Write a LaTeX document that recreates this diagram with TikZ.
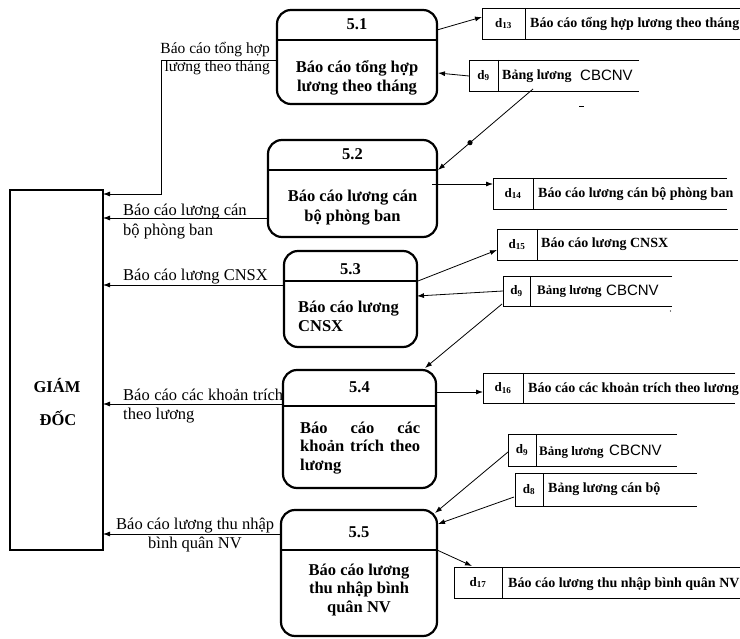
\documentclass[tikz,border=0pt]{standalone}
\usepackage{fontspec}
\setmainfont{Liberation Serif}
\newfontfamily\arialf{Liberation Sans}
\usetikzlibrary{arrows.meta,calc}
\begin{document}
\begin{tikzpicture}[x=1pt,y=-1pt,
  proc/.style={draw,line width=2.2pt,rounded corners=14pt,inner sep=0pt,outer sep=0pt},
  ent/.style={draw,line width=2.2pt,inner sep=0pt,outer sep=0pt},
  ptxt/.style={font=\fontsize{16.5}{19}\selectfont\bfseries,inner sep=0pt,anchor=base},
  lbl/.style={font=\fontsize{16.5}{19}\selectfont,inner sep=0pt},
  stxt/.style={font=\fontsize{14}{16}\selectfont\bfseries,inner sep=0pt,anchor=base west},
  stxs/.style={font=\fontsize{13}{16}\selectfont\bfseries,inner sep=0pt,anchor=base west},
  idcell/.style={font=\fontsize{13}{16}\selectfont\bfseries,inner sep=0pt,outer sep=0pt,anchor=north west},
  sansw/.style={font=\fontsize{15}{16}\selectfont\arialf,inner sep=0pt,anchor=base west},
  flow/.style={-{Latex[length=7pt,width=5pt]},line width=0.8pt},
  sline/.style={line width=0.8pt},
  divl/.style={line width=2.2pt},
]
\useasboundingbox (0,0) rectangle (740,639);

% ---------- GIAM DOC ----------
\node[ent,minimum width=93pt,minimum height=360pt] (gd) at (56.5,370) {};
\node[ptxt] (gd1) at (57,392) {GIÁM};
\node[ptxt] (gd2) at (58,425) {ĐỐC};

% ---------- Processes ----------
\node[proc,minimum width=160pt,minimum height=94pt] (p1) at (357,57) {};
\draw[divl] ([yshift=-30pt]p1.north west) -- ([yshift=-30pt]p1.north east);
\node[ptxt] (p1n) at (357,30) {5.1};
\node[ptxt] (p1a) at (357,73) {Báo cáo tổng hợp};
\node[ptxt] (p1b) at (357,92) {lương theo tháng};

\node[proc,minimum width=169pt,minimum height=97pt] (p2) at (352.5,188.5) {};
\draw[divl] ([yshift=-30pt]p2.north west) -- ([yshift=-30pt]p2.north east);
\node[ptxt] (p2n) at (352.5,160) {5.2};
\node[ptxt] (p2a) at (352.5,202) {Báo cáo lương cán};
\node[ptxt] (p2b) at (352.5,222) {bộ phòng ban};

\node[proc,minimum width=133pt,minimum height=96pt] (p3) at (350.5,299) {};
\draw[divl] ([yshift=-30pt]p3.north west) -- ([yshift=-30pt]p3.north east);
\node[ptxt] (p3n) at (350.5,275) {5.3};
\node[ptxt,anchor=base west] (p3a) at (298,313) {Báo cáo lương};
\node[ptxt,anchor=base west] (p3b) at (298,332) {CNSX};

\node[proc,minimum width=153pt,minimum height=118pt] (p4) at (359.5,429) {};
\draw[divl] ([yshift=-36pt]p4.north west) -- ([yshift=-36pt]p4.north east);
\node[ptxt] (p4n) at (359.5,393) {5.4};
\node[ptxt,anchor=base west] (p4a) at (300,434) {\makebox[120pt][s]{Báo cáo các}};
\node[ptxt,anchor=base west] (p4b) at (300,452) {\makebox[120pt][s]{khoản trích theo}};
\node[ptxt,anchor=base west] (p4c) at (300,471) {lương};

\node[proc,minimum width=156pt,minimum height=126pt] (p5) at (359,573) {};
\draw[divl] ([yshift=-40pt]p5.north west) -- ([yshift=-40pt]p5.north east);
\node[ptxt] (p5n) at (359,537) {5.5};
\node[ptxt] (p5a) at (359,575) {Báo cáo lương};
\node[ptxt] (p5b) at (359,593) {thu nhập bình};
\node[ptxt] (p5c) at (359,612) {quân NV};

% ---------- Data stores ----------
% d13
\node[idcell,minimum width=43pt,minimum height=31pt] (s13) at (482,8) {d\textsubscript{13}};
\draw[sline] (740,8) -- (s13.north west) -- (s13.south west) -- (740,39);
\draw[sline] (s13.north east) -- (s13.south east);
\node[stxt] (t13) at (530,28) {Báo cáo tổng hợp lương theo tháng};

% d9 (a)
\node[idcell,minimum width=29pt,minimum height=31pt] (s9a) at (469,60) {d\textsubscript{9}};
\draw[sline] (639,60) -- (s9a.north west) -- (s9a.south west) -- (639,91);
\draw[sline] (s9a.north east) -- (s9a.south east);
\node[stxt] (t9a) at (502,80) {Bảng lương};
\node[sansw] (u9a) at (580,81) {CBCNV};
\draw[sline] (579,106) -- (584,106);

% d14
\node[idcell,minimum width=40pt,minimum height=31pt] (s14) at (493,178) {d\textsubscript{14}};
\draw[sline] (727,178) -- (s14.north west) -- (s14.south west) -- (727,209);
\draw[sline] (s14.north east) -- (s14.south east);
\node[stxt] (t14) at (538,198) {Báo cáo lương cán bộ phòng ban};

% d15
\node[idcell,minimum width=40pt,minimum height=31pt] (s15) at (497,229) {d\textsubscript{15}};
\draw[sline] (738,229) -- (s15.north west) -- (s15.south west) -- (738,260);
\draw[sline] (s15.north east) -- (s15.south east);
\node[stxt] (t15) at (541,248) {Báo cáo lương CNSX};

% d9 (b)
\node[idcell,minimum width=27pt,minimum height=30pt] (s9b) at (503,276) {d\textsubscript{9}};
\draw[sline] (672,276) -- (s9b.north west) -- (s9b.south west) -- (672,306);
\draw[sline] (s9b.north east) -- (s9b.south east);
\node[stxs] (t9b) at (537,295) {Bảng lương};
\node[sansw] (u9b) at (606,296) {CBCNV};
\fill (670.5,311) circle (0.6pt);

% d16
\node[idcell,minimum width=40pt,minimum height=30pt] (s16) at (483,373) {d\textsubscript{16}};
\draw[sline] (735,373) -- (s16.north west) -- (s16.south west) -- (735,403);
\draw[sline] (s16.north east) -- (s16.south east);
\node[stxt] (t16) at (528,393) {Báo cáo các khoản trích theo lương};

% d9 (c)
\node[idcell,minimum width=28pt,minimum height=32pt] (s9c) at (508,434) {d\textsubscript{9}};
\draw[sline] (677,434) -- (s9c.north west) -- (s9c.south west) -- (677,466);
\draw[sline] (s9c.north east) -- (s9c.south east);
\node[stxs] (t9c) at (539,455) {Bảng lương};
\node[sansw] (u9c) at (609,456) {CBCNV};

% d8
\node[idcell,minimum width=28pt,minimum height=33pt] (s8) at (515,473) {d\textsubscript{8}};
\draw[sline] (697,473) -- (s8.north west) -- (s8.south west) -- (697,506);
\draw[sline] (s8.north east) -- (s8.south east);
\node[stxt] (t8) at (548,492) {Bảng lương cán bộ};

% d17
\node[idcell,minimum width=48pt,minimum height=31pt] (s17) at (454,567) {d\textsubscript{17}};
\draw[sline] (740,567) -- (s17.north west) -- (s17.south west) -- (740,598);
\draw[sline] (s17.north east) -- (s17.south east);
\node[stxt] (t17) at (508,587) {Báo cáo lương thu nhập bình quân NV};

% ---------- Flows between processes and stores ----------
\draw[flow] ($(p1.north east)+(0,20)$) -- ($(s13.north west)+(0,9)$);
\draw[flow] ($(s9a.north west)+(0,16)$) -- ($(p1.north east)+(1,63)$);
\coordinate (a3s) at ($(s9a.south west)+(64,-2)$);
\coordinate (a3e) at ($(p2.north east)+(1,30)$);
\draw[flow] (a3s) -- (a3e);
\fill ($(a3s)!0.663!(a3e)$) circle (2.6pt);
\draw[flow] ($(p2.north east)+(-5,44)$) -- ($(s14.north west)+(0,6)$);
\draw[flow] ($(p3.north east)+(1,30)$) -- ($(s15.north west)+(0,21)$);
\draw[flow] ($(s9b.north west)+(0,15)$) -- ($(p3.north east)+(0,45)$);
\draw[flow] ($(s9b.south west)+(-1,-2)$) -- ($(p4.north east)+(-11,-2)$);
\draw[flow] ($(p4.north east)+(1,22)$) -- ($(s16.north west)+(0,19)$);
\draw[flow] ($(s9c.north west)+(0,18)$) -- ($(p5.north east)+(-2,3)$);
\draw[flow] ($(s8.north west)+(-1,24)$) -- ($(p5.north east)+(1,14)$);
\draw[flow] ($(p5.north east)+(0,40)$) -- ($(s17.north west)+(18,-1)$);

% ---------- Flows to GIAM DOC ----------
\draw[flow] ($(p1.north west)+(0,50)$) -| ($(gd.north east)+(58,4)$) -- ($(gd.north east)+(0,4)$);
\draw[flow] ($(p2.north west)+(0,78)$) -- ($(gd.north east)+(0,28)$);
\draw[flow] ($(p3.north west)+(0,34)$) -- ($(gd.north east)+(0,95)$);
\draw[flow] ($(p4.north west)+(0,34)$) -- ($(gd.north east)+(0,214)$);
\draw[flow] ($(p5.north west)+(0,24)$) -- ($(gd.north east)+(0,344)$);

% ---------- Flow labels ----------
\node[lbl,font=\fontsize{15.5}{18}\selectfont,anchor=base east] (l1a) at (270,54) {Báo cáo tổng hợp};
\node[lbl,font=\fontsize{15.5}{18}\selectfont,anchor=base east] (l1b) at (270,72) {lương theo tháng};
\node[lbl,anchor=base west] (l2a) at (123,216) {Báo cáo lương cán};
\node[lbl,anchor=base west] (l2b) at (123,236) {bộ phòng ban};
\node[lbl,anchor=base west] (l3a) at (123,281) {Báo cáo lương CNSX};
\node[lbl,anchor=base west] (l4a) at (123,401) {\makebox[160pt][s]{Báo cáo các khoản trích}};
\node[lbl,anchor=base west] (l4b) at (123,420) {theo lương};
\node[lbl,anchor=base west] (l5a) at (116,529) {Báo cáo lương thu nhập};
\node[lbl,anchor=base west] (l5b) at (148,548) {bình quân NV};
\end{tikzpicture}
\end{document}
